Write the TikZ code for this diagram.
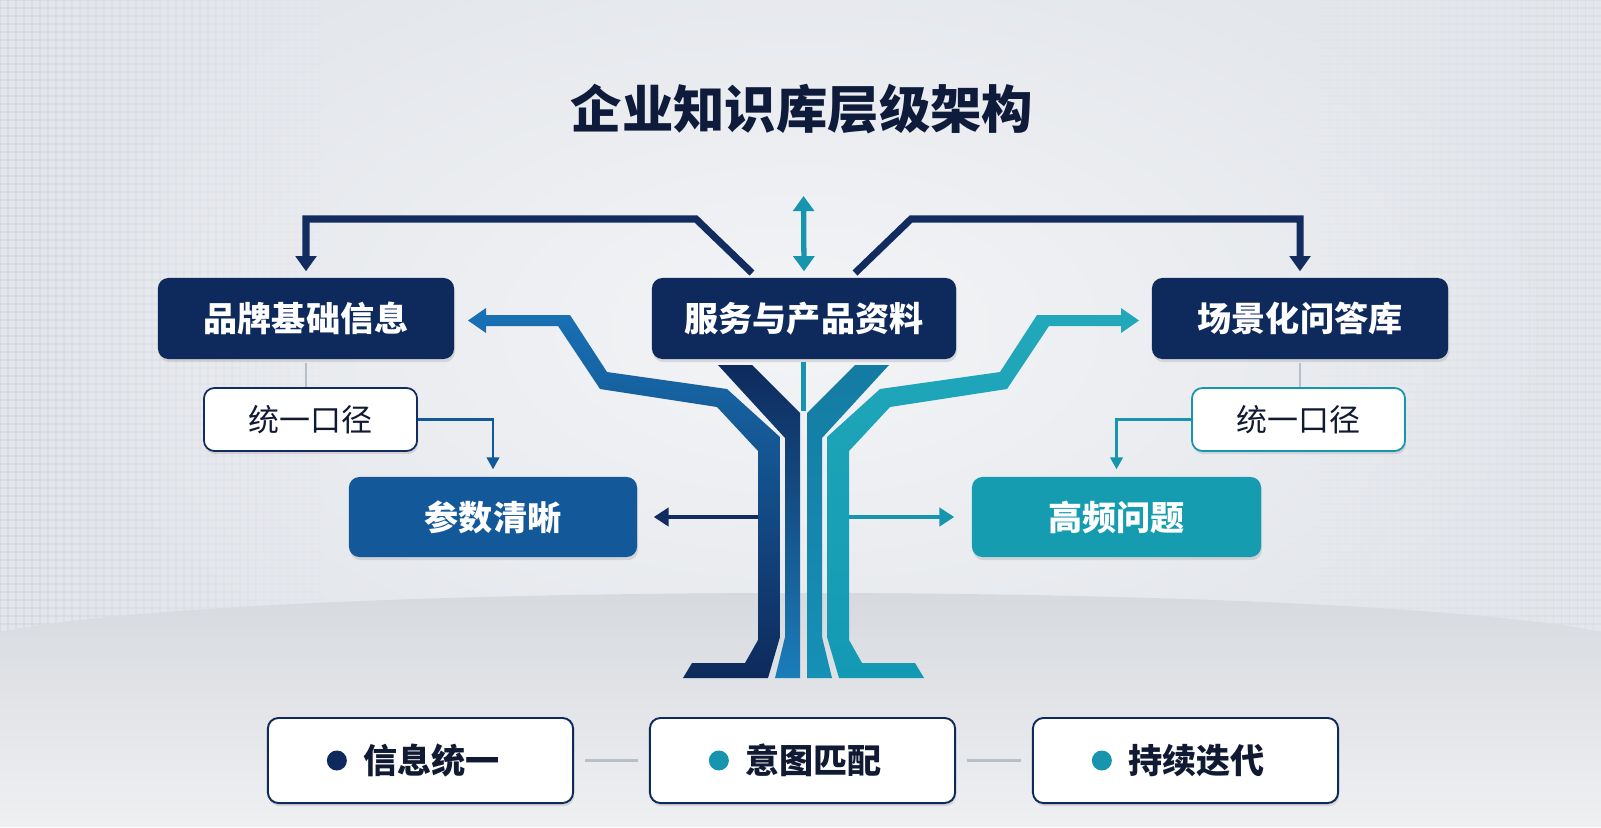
\documentclass[tikz,border=0pt]{standalone}
\usepackage{fontspec}
\setmainfont{Noto Sans CJK SC}
\usetikzlibrary{arrows.meta,positioning,shadows}

\definecolor{navy}{HTML}{0E2A5C}
\definecolor{titlecol}{HTML}{0F1B3A}
\definecolor{linenavy}{HTML}{122C60}
\definecolor{midblue}{HTML}{13599A}
\definecolor{branchblue}{HTML}{1870B2}
\definecolor{trunkblue}{HTML}{1B7DB9}
\definecolor{tealbox}{HTML}{169CB0}
\definecolor{tealline}{HTML}{1895AE}
\definecolor{tealin}{HTML}{1690B5}
\definecolor{tealout}{HTML}{1399B3}
\definecolor{tealtop}{HTML}{22A8BA}
\definecolor{bgout}{HTML}{E3E6EB}
\definecolor{bgin}{HTML}{F3F4F6}
\definecolor{gridcol}{HTML}{B9C0C9}
\definecolor{floortop}{HTML}{D5D8DD}
\definecolor{floorbot}{HTML}{EFF0F2}
\definecolor{greyline}{HTML}{B8BFC7}
\definecolor{darktext}{HTML}{111A33}

\tikzset{
  softshadow/.style={drop shadow={shadow xshift=0.3pt, shadow yshift=-0.9pt, opacity=0.22}},
  topbox/.style={fill=navy, rounded corners=3pt, text=white, inner sep=0pt,
    font=\bfseries\fontsize{9.7pt}{11pt}\selectfont, minimum height=0.81cm, softshadow},
  subbox/.style={fill=white, rounded corners=3pt, line width=0.5pt, inner sep=0pt, text=darktext,
    font=\fontsize{8.8pt}{10pt}\selectfont, minimum width=2.13cm, minimum height=0.63cm, softshadow},
  leafbox/.style={rounded corners=3pt, text=white, inner sep=0pt,
    font=\bfseries\fontsize{9.7pt}{11pt}\selectfont, minimum height=0.80cm, softshadow},
  footbox/.style={draw=navy, fill=white, rounded corners=3pt, line width=0.55pt, inner sep=0pt,
    minimum width=3.05cm, minimum height=0.85cm, softshadow},
  footlabel/.style={inner sep=0pt, text=darktext, font=\bfseries\fontsize{9.7pt}{11pt}\selectfont},
  dotmark/.style={circle, inner sep=0pt, minimum size=0.2cm},
  navyarrow/.style={draw=linenavy, line width=2pt, -{Triangle[length=4.3pt,width=5.8pt]}},
  thinarrow/.style={line width=0.6pt, -{Triangle[length=3.4pt,width=3.6pt]}},
  sidearrow/.style={line width=0.9pt, -{Triangle[length=4.2pt,width=5.2pt]}},
  gridline/.style={draw=gridcol, line width=0.3pt},
}

\begin{document}
\begin{tikzpicture}[x=0.01cm, y=-0.01cm]
\useasboundingbox (0,0) rectangle (1601,827);

% background
\fill[bgout] (0,0) rectangle (1601,827);
\shade[inner color=bgin, outer color=bgout] (800,330) ellipse (760 and 420);
\foreach \gx in {0,8,...,320}
  \draw[gridline, opacity={0.22*(1-\gx/330)}] (\gx,0) -- (\gx,640);
\foreach \gx in {1281,1289,...,1601}
  \draw[gridline, opacity={0.14*(\gx-1271)/330}] (\gx,0) -- (\gx,640);
\foreach \gy in {0,8,...,640}
  \foreach \gs in {0,...,7}
  {
    \draw[gridline, opacity={0.22*(1-\gs/8)}] (\gs*40,\gy) -- (\gs*40+40,\gy);
    \draw[gridline, opacity={0.14*(1-\gs/8)}] (1601-\gs*40,\gy) -- (1561-\gs*40,\gy);
  }
\shade[top color=floortop, bottom color=floorbot]
  (0,632) .. controls (250,580) and (1350,580) .. (1601,632) -- (1601,827) -- (0,827) -- cycle;

% title
\node[inner sep=0pt, text=titlecol, font=\bfseries\fontsize{14.6pt}{16pt}\selectfont] (title) at (802,109) {企业知识库层级架构};

% tree trunk
\shade[top color=branchblue, middle color=navy!80!branchblue, bottom color=navy]
  (483,315) -- (570,315) -- (607,372) -- (727,389) -- (780,437) -- (780,637) -- (768,678)
  -- (683,678) -- (692,663) -- (745,663) -- (758,640) -- (758,451) -- (717,407)
  -- (600,389) -- (558,326) -- (483,326) -- cycle;
\fill[branchblue] (468,320.5) -- (486,308) -- (486,333) -- cycle;
\shade[top color=navy, bottom color=trunkblue]
  (718,365) -- (752,365) -- (800,413) -- (800,678) -- (775,678) -- (785,637) -- (785,438) -- cycle;
\shade[top color=tealin!80!navy, bottom color=tealin]
  (889,365) -- (855,365) -- (807,413) -- (807,678) -- (832,678) -- (822,637) -- (822,438) -- cycle;
\shade[top color=tealtop, bottom color=tealout]
  (1124,315) -- (1037,315) -- (1000,372) -- (880,389) -- (827,437) -- (827,637) -- (839,678)
  -- (924,678) -- (915,663) -- (862,663) -- (849,640) -- (849,451) -- (890,407)
  -- (1007,389) -- (1049,326) -- (1124,326) -- cycle;
\fill[tealtop] (1139,320.5) -- (1121,308) -- (1121,333) -- cycle;
\draw[draw=tealline, line width=1.4pt] (803.5,362) -- (803.5,411);

% top row
\node[topbox, minimum width=2.96cm] (brand) at (306,318.5) {品牌基础信息};
\node[topbox, minimum width=3.04cm] (service) at (804,318.5) {服务与产品资料};
\node[topbox, minimum width=2.96cm] (scene) at (1300,318.5) {场景化问答库};

\coordinate (srvL) at (752,273);
\coordinate (srvR) at (855,273);
\coordinate (topTip) at (803.5,196);
\draw[navyarrow] (srvL) -- ++(-56,-54) -| ([yshift=0.06cm]brand.north);
\draw[navyarrow] (srvR) -- ++(56,-54) -| ([yshift=0.06cm]scene.north);
\draw[draw=tealline, line width=1.5pt, {Triangle[length=4.3pt,width=5.9pt]}-{Triangle[length=4.3pt,width=5.9pt]}]
  (topTip) -- ([yshift=0.06cm]service.north);

% second row
\node[subbox, draw=linenavy] (unifyL) at (310.5,419.5) {统一口径};
\node[subbox, draw=tealline] (unifyR) at (1298.5,419.5) {统一口径};
\draw[greyline, line width=0.4pt] ([yshift=-0.03cm]brand.south) -- (brand.south |- unifyL.north);
\draw[greyline, line width=0.4pt] ([yshift=-0.03cm]scene.south) -- (scene.south |- unifyR.north);

\node[leafbox, fill=midblue, minimum width=2.88cm] (param) at (493,517) {参数清晰};
\node[leafbox, fill=tealbox, minimum width=2.89cm] (freq) at (1116.5,517) {高频问题};
\draw[thinarrow, draw=midblue] (unifyL.east) -| ([yshift=0.07cm]param.north);
\draw[thinarrow, draw=tealline] (unifyR.west) -| ([yshift=0.07cm]freq.north);

\coordinate (trunkL) at (758,517);
\coordinate (trunkR) at (849,517);
\draw[sidearrow, draw=linenavy] (trunkL) -- ([xshift=0.16cm]param.east);
\draw[sidearrow, draw=tealline] (trunkR) -- ([xshift=-0.17cm]freq.west);

% bottom row
\node[footbox] (info) at (420.5,760.5) {};
\node[footbox] (intent) at (802.5,760.5) {};
\node[footbox] (iterate) at (1185.5,760.5) {};
\node[footlabel] (infoT) at ([xshift=0.11cm]info.center) {信息统一};
\node[footlabel] (intentT) at ([xshift=0.11cm]intent.center) {意图匹配};
\node[footlabel] (iterateT) at ([xshift=0.11cm]iterate.center) {持续迭代};
\node[dotmark, fill=navy, left=0.15cm of infoT] (infoD) {};
\node[dotmark, fill=tealline, left=0.15cm of intentT] (intentD) {};
\node[dotmark, fill=tealline, left=0.15cm of iterateT] (iterateD) {};
\draw[greyline, line width=0.6pt, shorten <=3.1pt, shorten >=3.1pt] (info.east) -- (intent.west);
\draw[greyline, line width=0.6pt, shorten <=3.1pt, shorten >=3.1pt] (intent.east) -- (iterate.west);
\end{tikzpicture}
\end{document}
